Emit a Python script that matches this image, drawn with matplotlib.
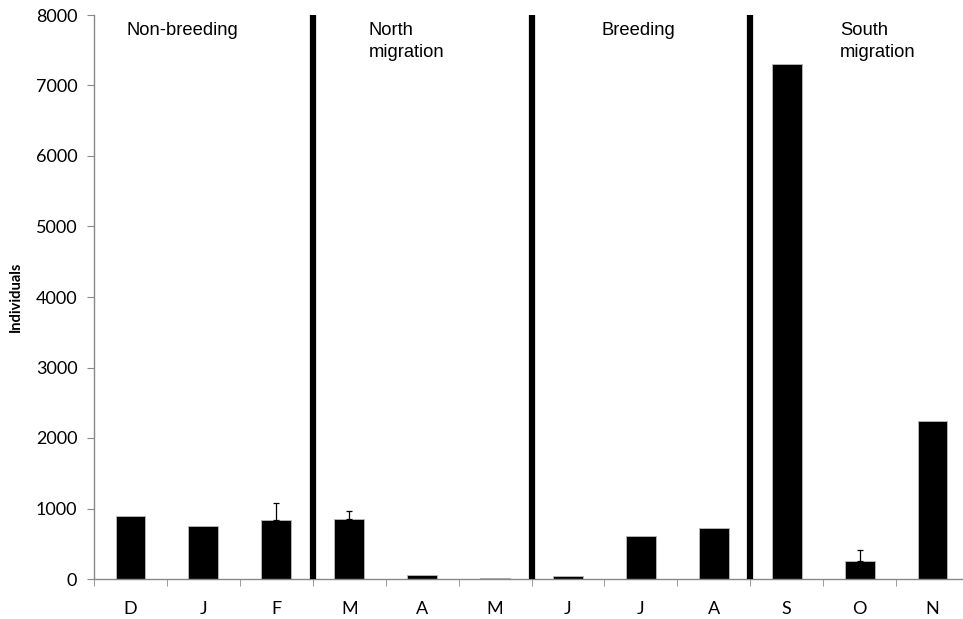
import numpy as np
import matplotlib.pyplot as plt

plt.rcParams['font.family'] = ['Lato', 'DejaVu Sans']

MONTHS = ["D", "J", "F", "M", "A", "M", "J", "J", "A", "S", "O", "N"]
COUNTS = [890, 750, 830, 845, 52, 10, 47, 606, 720, 7300, 260, 2240]
ERR_UP = [0, 0, 245, 120, 0, 0, 0, 0, 0, 0, 148, 0]
SEASON_BREAKS = [2.5, 5.5, 8.5]
# (x, y of baseline, text) for each season label line
SEASON_TEXT = [(-0.05, 7710, "Non-breeding"),
               (3.27, 7710, "North"), (3.27, 7405, "migration"),
               (6.46, 7710, "Breeding"),
               (9.73, 7710, "South"), (9.73, 7405, "migration")]

fig = plt.figure(figsize=(9.63, 6.19), dpi=100)
ax = fig.add_axes([94/963, 40/619, 875/963, 564/619])

x = np.arange(len(MONTHS))
ax.bar(x, COUNTS, width=0.41, color="black", edgecolor="#bbbbbb", linewidth=0.6, zorder=2)
yerr = np.array([np.zeros(len(ERR_UP)), ERR_UP])
mask = np.array(ERR_UP) > 0
ax.errorbar(x[mask], np.array(COUNTS)[mask], yerr=yerr[:, mask], fmt="none",
            ecolor="black", elinewidth=0.9, capsize=2.5, capthick=0.9, zorder=3)

for b in SEASON_BREAKS:
    ax.axvline(b, color="black", linewidth=4.5, zorder=4)

for xs, ys, label in SEASON_TEXT:
    ax.text(xs, ys, label, ha="left", va="baseline", fontsize=13.2,
            family=["Liberation Sans", "DejaVu Sans"])

ax.set_xlim(-0.5, len(MONTHS) - 0.5)
ax.set_ylim(0, 8000)
ax.set_yticks(np.arange(0, 8001, 1000))
ax.set_xticks(x)
ax.set_xticklabels(MONTHS, fontsize=13)
ax.set_xticks(np.arange(-0.5, len(MONTHS), 1), minor=True)
ax.tick_params(axis="x", which="major", length=0, pad=16)
ax.tick_params(axis="x", which="minor", length=5, color="#888888", direction="out")
ax.tick_params(axis="y", length=5, color="#888888", labelsize=13, direction="out", pad=7)
ax.set_ylabel("Individuals", fontsize=10.5, fontweight="bold", labelpad=9)

for s in ["top", "right"]:
    ax.spines[s].set_visible(False)
for s in ["left", "bottom"]:
    ax.spines[s].set_color("#888888")
    ax.spines[s].set_linewidth(1.0)

fig.savefig("out.png", dpi=100)
